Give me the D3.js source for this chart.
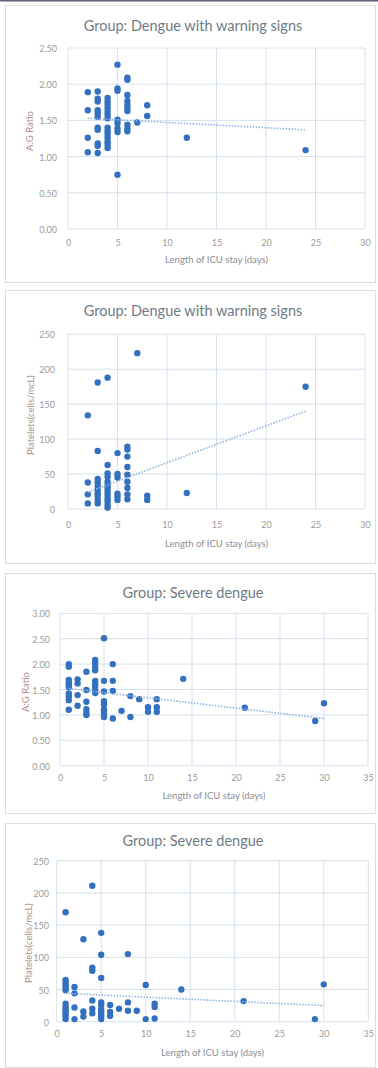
<!DOCTYPE html>
<html>
<head>
<meta charset="utf-8">
<script src="https://cdn.jsdelivr.net/npm/d3@7"></script>
<style>
  html, body { margin: 0; padding: 0; background: #ffffff; }
  svg { display: block; }
  text { font-family: Lato, "Open Sans", sans-serif; }
</style>
</head>
<body>
<svg id="chart" width="378" height="1068"></svg>
<script>
// ---------------- DATA ----------------
const titles = ["Group: Dengue with warning signs", "Group: Dengue with warning signs",
                "Group: Severe dengue", "Group: Severe dengue"];
const xTitle = "Length  of ICU stay (days)";
const yTitles = ["A:G Ratio", "Platelets(cells/mcL)", "A:G Ratio", "Platelets(cells/mcL)"];

const xTicksWarning = [0, 5, 10, 15, 20, 25, 30];
const xTicksSevere  = [0, 5, 10, 15, 20, 25, 30, 35];
const yTicksAG1   = [0, 0.5, 1.0, 1.5, 2.0, 2.5];
const yTicksAG2   = [0, 0.5, 1.0, 1.5, 2.0, 2.5, 3.0];
const yTicksPlt   = [0, 50, 100, 150, 200, 250];

// [days, A:G ratio] — dengue with warning signs
const agWarning = [
  [2,1.89],[2,1.64],[2,1.26],[2,1.06],
  [3,1.90],[3,1.80],[3,1.76],[3,1.64],[3,1.60],[3,1.55],[3,1.40],[3,1.37],[3,1.18],[3,1.15],[3,1.05],
  [4,1.81],[4,1.76],[4,1.72],[4,1.67],[4,1.62],[4,1.58],[4,1.53],
  [4,1.40],[4,1.35],[4,1.31],[4,1.26],[4,1.21],[4,1.17],[4,1.12],
  [5,2.27],[5,1.94],[5,1.91],[5,1.51],[5,1.46],[5,1.39],[5,1.34],[5,0.75],
  [6,2.09],[6,2.06],[6,1.85],[6,1.77],[6,1.72],[6,1.67],[6,1.63],[6,1.44],[6,1.39],[6,1.35],
  [7,1.47],[8,1.71],[8,1.56],[12,1.26],[24,1.09]
];
const agWarningTrend = [[2,1.53],[24,1.37]];

// [days, platelets] — dengue with warning signs
const pltWarning = [
  [2,134],[2,38],[2,21],[2,8],
  [3,181],[3,83],[3,43],[3,38],[3,33],[3,28],[3,23],[3,19],[3,13],[3,8],
  [4,188],[4,63],[4,51],[4,46],[4,39],[4,34],[4,30],[4,25],[4,20],[4,15],[4,11],[4,6],[4,2],
  [5,80],[5,50],[5,45],[5,22],[5,18],[5,13],
  [6,89],[6,85],[6,75],[6,60],[6,49],[6,39],[6,30],[6,21],[6,14],
  [7,223],[8,19],[8,13],[12,23],[24,175]
];
const pltWarningTrend = [[2,24],[24,140]];

// [days, A:G ratio] — severe dengue
const agSevere = [
  [1,2.00],[1,1.95],[1,1.69],[1,1.64],[1,1.59],[1,1.55],[1,1.42],[1,1.36],[1,1.29],[1,1.10],
  [2,1.70],[2,1.62],[2,1.39],[2,1.18],
  [3,1.85],[3,1.49],[3,1.26],[3,1.11],[3,1.04],[3,1.00],
  [4,2.08],[4,2.02],[4,1.95],[4,1.88],[4,1.67],[4,1.62],[4,1.56],[4,1.49],[4,1.43],
  [5,2.51],[5,1.67],[5,1.46],[5,1.27],[5,1.21],[5,1.11],[5,1.06],[5,1.01],[5,0.96],
  [6,2.00],[6,1.67],[6,1.47],[6,0.93],
  [7,1.08],[8,1.37],[8,0.96],[9,1.31],[10,1.15],[10,1.06],[11,1.31],[11,1.15],[11,1.06],
  [14,1.71],[21,1.14],[29,0.88],[30,1.23]
];
const agSevereTrend = [[1,1.52],[30,0.93]];

// [days, platelets] — severe dengue
const pltSevere = [
  [1,170],[1,65],[1,61],[1,57],[1,53],[1,49],[1,28],[1,23],[1,19],[1,15],[1,11],[1,8],[1,4],
  [2,54],[2,44],[2,22],[2,4],
  [3,128],[3,16],[3,8],
  [4,211],[4,84],[4,79],[4,33],[4,20],[4,13],
  [5,138],[5,104],[5,68],[5,30],[5,26],[5,19],[5,15],[5,11],[5,8],[5,4],
  [6,26],[6,15],[6,9],
  [7,20],[8,105],[8,30],[8,17],[9,17],[10,57],[10,4],[11,28],[11,23],[11,5],
  [14,50],[21,32],[29,4],[30,58]
];
const pltSevereTrend = [[1,44],[30,25]];

// ---------------- LAYOUT ----------------
const panels = [
  { data: agWarning, trend: agWarningTrend, xTicks: xTicksWarning, yTicks: yTicksAG1, fmt: d3.format(".2f"),
    box: [5, 5, 370, 277], plot: { l: 68, r: 365, t: 48, b: 229 },
    titleY: 25, tickY: 242, xTitleY: 259, yTitleX: 29, yTitleY: 131, yLabX: 57 },
  { data: pltWarning, trend: pltWarningTrend, xTicks: xTicksWarning, yTicks: yTicksPlt, fmt: d3.format("d"),
    box: [5, 290, 370, 273], plot: { l: 68, r: 365, t: 334.3, b: 509 },
    titleY: 310, tickY: 524, xTitleY: 543, yTitleX: 30, yTitleY: 415, yLabX: 55 },
  { data: agSevere, trend: agSevereTrend, xTicks: xTicksSevere, yTicks: yTicksAG2, fmt: d3.format(".2f"),
    box: [5, 573, 370, 240], plot: { l: 60, r: 368, t: 613.3, b: 765.7 },
    titleY: 592, tickY: 777, xTitleY: 795, yTitleX: 25, yTitleY: 692, yLabX: 50 },
  { data: pltSevere, trend: pltSevereTrend, xTicks: xTicksSevere, yTicks: yTicksPlt, fmt: d3.format("d"),
    box: [5, 823, 370, 244], plot: { l: 56.7, r: 368.3, t: 860.7, b: 1021.7 },
    titleY: 840, tickY: 1033, xTitleY: 1052, yTitleX: 28, yTitleY: 943, yLabX: 49 }
];
const titleCenterX = 193;

const svg = d3.select("#chart");

// thin dark rule at very top of the image
svg.append("rect").attr("x", 0).attr("y", 0).attr("width", 378).attr("height", 1.5).attr("fill", "#5d6078");

panels.forEach((p, i) => {
  const g = svg.append("g");
  const [bx, by, bw, bh] = p.box;
  g.append("rect").attr("x", bx + 0.5).attr("y", by + 0.5).attr("width", bw).attr("height", bh)
    .attr("fill", "#ffffff").attr("stroke", "#dcdcdc").attr("stroke-width", 1);

  const x = d3.scaleLinear().domain([p.xTicks[0], p.xTicks[p.xTicks.length - 1]]).range([p.plot.l, p.plot.r]);
  const y = d3.scaleLinear().domain([p.yTicks[0], p.yTicks[p.yTicks.length - 1]]).range([p.plot.b, p.plot.t]);

  // gridlines
  g.append("g").selectAll("line.h").data(p.yTicks).join("line")
    .attr("x1", p.plot.l).attr("x2", p.plot.r)
    .attr("y1", d => y(d)).attr("y2", d => y(d))
    .attr("stroke", "#d5e1ec").attr("stroke-width", 1);
  g.append("g").selectAll("line.v").data(p.xTicks).join("line")
    .attr("y1", p.plot.t).attr("y2", p.plot.b)
    .attr("x1", d => x(d)).attr("x2", d => x(d))
    .attr("stroke", "#d5e1ec").attr("stroke-width", 1);

  // axes (labels only)
  const xAxis = g.append("g").attr("transform", `translate(0,${p.tickY - 6})`)
    .call(d3.axisBottom(x).tickValues(p.xTicks).tickSize(0).tickPadding(0).tickFormat(d3.format("d")));
  xAxis.select(".domain").remove();
  xAxis.selectAll("text").attr("dy", "0").attr("y", 6).attr("dominant-baseline", "central")
    .attr("fill", "#9a9a9a").style("font-size", "9px").style("font-family", "Lato, 'Open Sans', sans-serif");

  const yAxis = g.append("g").attr("transform", `translate(${p.yLabX},0)`)
    .call(d3.axisLeft(y).tickValues(p.yTicks).tickSize(0).tickPadding(0).tickFormat(p.fmt));
  yAxis.select(".domain").remove();
  yAxis.selectAll("text").attr("x", 0).attr("dy", "0").attr("dominant-baseline", "central")
    .attr("fill", "#9a9a9a").style("font-size", "9px").style("font-family", "Lato, 'Open Sans', sans-serif");

  // title
  g.append("text").attr("x", titleCenterX).attr("y", p.titleY)
    .attr("text-anchor", "middle").attr("dominant-baseline", "central")
    .attr("fill", "#6e7b86").style("font-size", "14.5px").text(titles[i]);

  // axis titles
  g.append("text").attr("x", (p.plot.l + p.plot.r) / 2).attr("y", p.xTitleY)
    .attr("text-anchor", "middle").attr("dominant-baseline", "central")
    .attr("fill", "#8c8e96").style("font-size", "9.5px").text(xTitle);
  g.append("text").attr("transform", `translate(${p.yTitleX},${p.yTitleY}) rotate(-90)`)
    .attr("text-anchor", "middle").attr("dominant-baseline", "central")
    .attr("fill", "#a8918c").style("font-size", "9.5px").text(yTitles[i]);

  // points
  g.append("g").selectAll("circle").data(p.data).join("circle")
    .attr("cx", d => x(d[0])).attr("cy", d => y(d[1])).attr("r", 3.2)
    .attr("fill", "#3470c0");

  // trendline
  g.append("path").datum(p.trend)
    .attr("d", d3.line().x(d => x(d[0])).y(d => y(d[1])))
    .attr("fill", "none").attr("stroke", "#8fb3e0").attr("stroke-width", 1.6)
    .attr("stroke-dasharray", "1.5,1.5");
});
</script>
</body>
</html>
